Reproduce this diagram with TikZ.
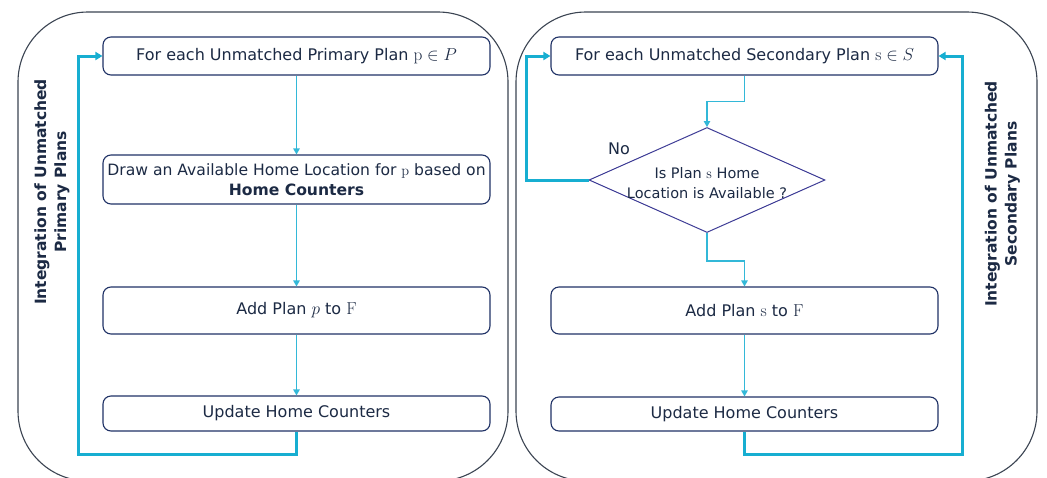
\documentclass[tikz,border=0pt]{standalone}
\usepackage[no-math]{fontspec}
\setmainfont{DejaVu Sans}
\usetikzlibrary{arrows.meta,shapes.geometric}
\definecolor{txt}{HTML}{1C2A44}
\definecolor{boxline}{HTML}{203266}
\definecolor{panel}{HTML}{3B4452}
\definecolor{cyanline}{HTML}{17AED1}
\definecolor{thincyan}{HTML}{33B8D8}
\definecolor{dia}{HTML}{3E3C96}
\begin{document}
\begin{tikzpicture}[x=1pt,y=-1pt,
  panelbox/.style={draw=panel, line width=1.1pt, rounded corners=70pt},
  stepbox/.style={draw=boxline, line width=1.1pt, rounded corners=8pt, minimum width=387pt,
    inner sep=0pt, align=center, text=txt, font=\fontsize{16}{20}\selectfont},
  thinarrow/.style={draw=thincyan, line width=1.1pt, -{Triangle[length=6pt,width=6.5pt]}},
  thickarrow/.style={draw=cyanline, line width=3pt, -{Triangle[length=7pt,width=8pt]}},
  sidelabel/.style={rotate=90, align=center, text=txt, font=\bfseries\fontsize{15.5}{20}\selectfont},
]
\useasboundingbox (0,0) rectangle (1047,477);
\clip (0,0) rectangle (1047,477);
\fill[white] (0,0) rectangle (1047,477);
% panels
\draw[panelbox] (18,12) rectangle (508,481);
\draw[panelbox] (516,12) rectangle (1037,481);
% side labels
\node[sidelabel] (lp) at (52,192) {Integration of Unmatched\\Primary Plans};
\node[sidelabel] (ls) at (1002.5,194) {Integration of Unmatched\\Secondary Plans};
% left flow
\node[stepbox, minimum height=38pt] (p1) at (296.5,56) {For each Unmatched Primary Plan \(\mathrm{p}\in P\)};
\node[stepbox, minimum height=49pt, font=\fontsize{15.6}{20}\selectfont] (p2) at (296.5,179.5)
  {Draw an Available Home Location for \(\mathrm{p}\) based on\\\textbf{Home Counters}};
\node[stepbox, minimum height=47pt] (p3) at (296.5,310.5) {Add Plan \(p\) to \(\mathrm{F}\)};
\node[stepbox, minimum height=35pt] (p4) at (296.5,413.5) {Update Home Counters};
\draw[thinarrow] (p1.south) -- (p2.north);
\draw[thinarrow] (p2.south) -- (p3.north);
\draw[thinarrow] (p3.south) -- (p4.north);
\draw[thickarrow] (p4.south) -- ++(0,23) -| ([xshift=-24pt]p1.west) -- (p1.west);
% right flow
\node[stepbox, minimum height=38pt] (s1) at (744.5,56) {For each Unmatched Secondary Plan \(\mathrm{s}\in S\)};
\node[draw=dia, line width=1pt, diamond, minimum width=236pt, minimum height=105pt, inner sep=0pt,
  label={[align=center, text=txt, font=\fontsize{14.5}{20}\selectfont, yshift=-3pt]center:{Is Plan \(\mathrm{s}\) Home\\Location is Available ?}}] (d) at (707,180) {};
\node[stepbox, minimum height=47pt] (s3) at (744.5,310.5) {Add Plan \(\mathrm{s}\) to \(\mathrm{F}\)};
\node[stepbox, minimum height=34pt] (s4) at (744.5,414) {Update Home Counters};
\node[text=txt, font=\fontsize{16}{20}\selectfont] (no) at (619,149) {No};
\draw[thinarrow] (s1.south) -- ++(0,26) -| (d.north);
\draw[thinarrow] (d.south) -- ++(0,28) -| (s3.north);
\draw[thinarrow] (s3.south) -- (s4.north);
\draw[thickarrow] (s4.south) -- ++(0,23) -| ([xshift=24pt]s1.east) -- (s1.east);
\draw[thickarrow] (d.west) -- ++(-62,0) |- (s1.west);
\end{tikzpicture}
\end{document}
